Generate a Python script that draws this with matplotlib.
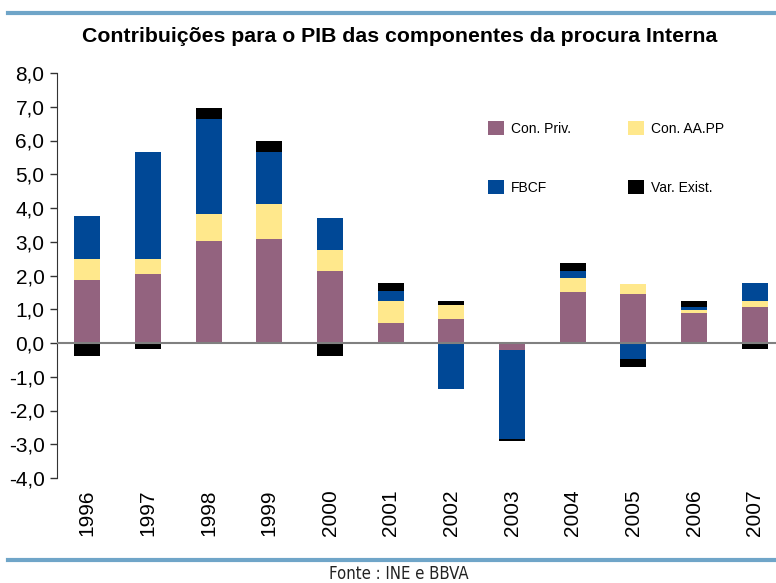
import numpy as np
import matplotlib
matplotlib.use("Agg")
import matplotlib.pyplot as plt
from matplotlib.lines import Line2D

# data
years = ["1996", "1997", "1998", "1999", "2000", "2001",
         "2002", "2003", "2004", "2005", "2006", "2007"]
con_priv = [1.88, 2.03, 3.01, 3.07, 2.12, 0.58, 0.70, -0.22, 1.50, 1.44, 0.88, 1.08]
con_aapp = [0.62, 0.47, 0.80, 1.06, 0.65, 0.65, 0.44, 0.00, 0.44, 0.30, 0.09, 0.15]
fbcf = [1.25, 3.17, 2.84, 1.54, 0.92, 0.30, -1.37, -2.63, 0.18, -0.48, 0.11, 0.56]
var_exist = [-0.38, -0.19, 0.32, 0.33, -0.38, 0.26, 0.09, -0.06, 0.24, -0.24, 0.15, -0.19]

series = [("Con. Priv.", con_priv, "#93637f"),
          ("Con. AA.PP", con_aapp, "#ffe88c"),
          ("FBCF", fbcf, "#004896"),
          ("Var. Exist.", var_exist, "#000000")]

plt.rcParams['font.family'] = ['Liberation Sans', 'DejaVu Sans']

fig = plt.figure(figsize=(7.76, 5.83), dpi=100)
ax = fig.add_axes([57 / 776, 105 / 583, 1 - 57 / 776, 405 / 583])

x = np.arange(len(years))
pos_base = np.zeros(len(years))
neg_base = np.zeros(len(years))
handles = {}
for name, vals, color in series:
    vals = np.array(vals)
    bottom = np.where(vals >= 0, pos_base, neg_base)
    bars = ax.bar(x, vals, bottom=bottom, width=0.43, color=color, label=name, zorder=2)
    handles[name] = bars
    pos_base = pos_base + np.clip(vals, 0, None)
    neg_base = neg_base + np.clip(vals, None, 0)

ax.axhline(0, color="#808080", lw=1.5, zorder=3)

ax.set_xlim(-0.5, 11.35)
ax.set_ylim(-4, 8)
ax.set_yticks(np.arange(-4, 9, 1))
ax.set_yticklabels([f"{v:.1f}".replace(".", ",") for v in np.arange(-4, 9, 1)], fontsize=15)
ax.set_xticks(x)
ax.set_xticklabels(years, rotation=90, fontsize=15)
ax.tick_params(axis="x", length=0, pad=8)
ax.tick_params(axis="y", length=5, width=1, color="#333333", pad=4)
for s in ["top", "right", "bottom"]:
    ax.spines[s].set_visible(False)
ax.spines["left"].set_color("#333333")

# legend: two columns, order so that rows read Priv / AA.PP and FBCF / Var
order = ["Con. Priv.", "FBCF", "Con. AA.PP", "Var. Exist."]
ax.legend([handles[n] for n in order], order, ncol=2, frameon=False,
          loc="upper left", bbox_to_anchor=(488 / 776, 1 - 121 / 583),
          bbox_transform=fig.transFigure, borderpad=0, borderaxespad=0,
          fontsize=10, handlelength=1.15, handleheight=1.15,
          handletextpad=0.5, labelspacing=3.2, columnspacing=4.1)

fig.text(400 / 776, 1 - 37 / 583, "Contribuições para o PIB das componentes da procura Interna",
         ha="center", va="center", fontsize=15.3, fontweight="bold")

line_color = "#6fa5c8"
fig.add_artist(Line2D([8 / 776, 1], [1 - 13 / 583] * 2, color=line_color, lw=3, transform=fig.transFigure))
fig.add_artist(Line2D([8 / 776, 1], [1 - 559.5 / 583] * 2, color=line_color, lw=3, transform=fig.transFigure))

fig.text(399 / 776, 1 - 574 / 583, "Fonte : INE e BBVA", ha="center", va="center",
         fontsize=12, family="DejaVu Sans", fontstretch="condensed", color="#222222")

fig.savefig("out.png", dpi=100)
